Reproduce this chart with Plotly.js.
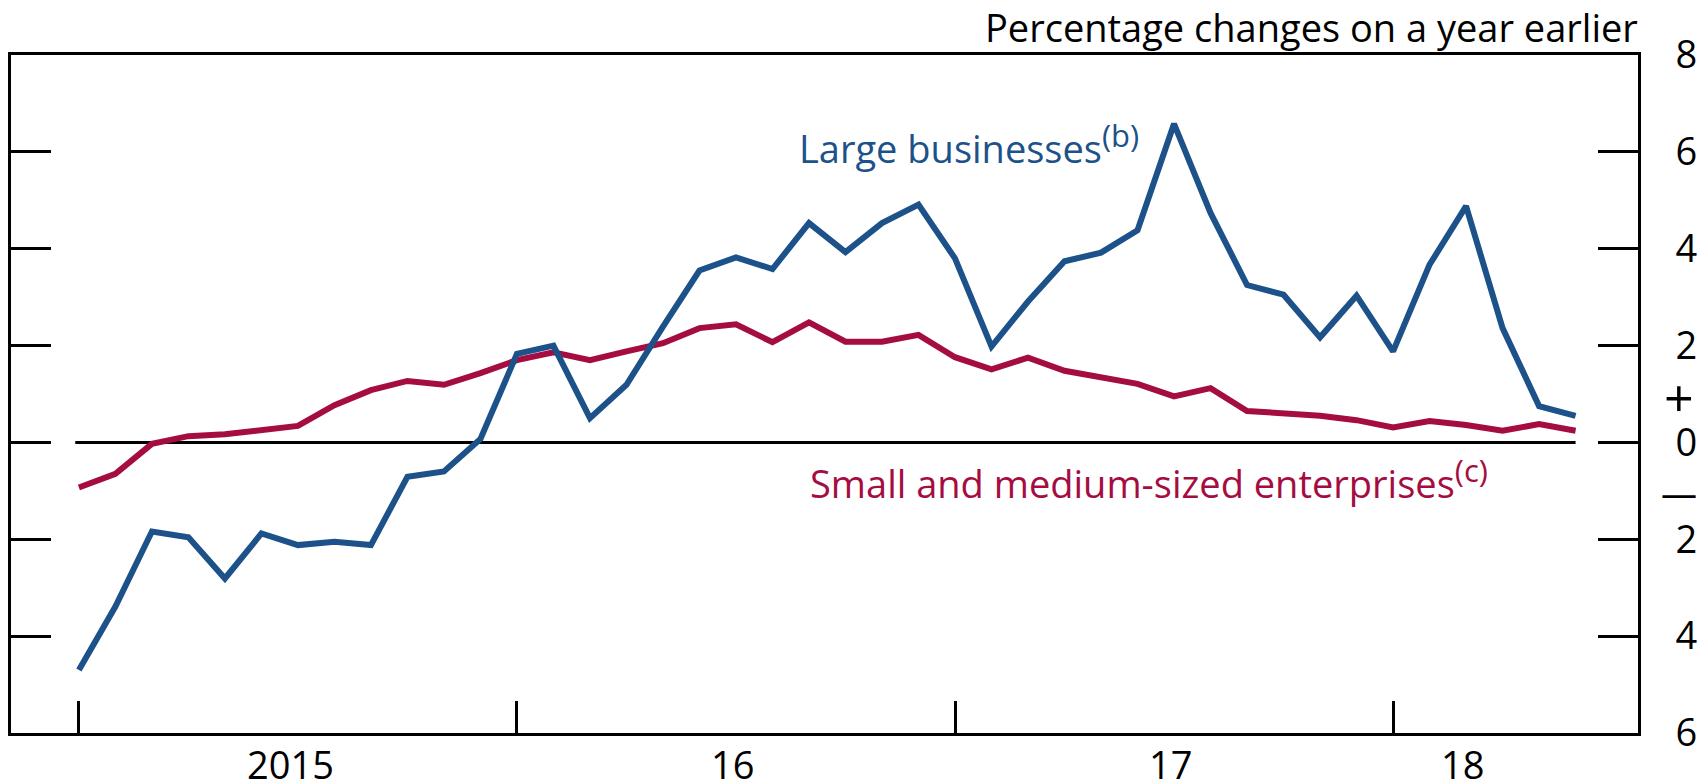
<!DOCTYPE html>
<html>
<head>
<meta charset="utf-8">
<script src="https://cdn.plot.ly/plotly-3.0.1.min.js"></script>
<style>
  html, body { margin: 0; padding: 0; background: #ffffff; }
  #chart { width: 1705px; height: 782px; }
</style>
</head>
<body>
<div id="chart"></div>
<script>
// Months: Jan 2015 .. Jun 2018
const months = [
  '2015-01','2015-02','2015-03','2015-04','2015-05','2015-06','2015-07','2015-08','2015-09','2015-10','2015-11','2015-12',
  '2016-01','2016-02','2016-03','2016-04','2016-05','2016-06','2016-07','2016-08','2016-09','2016-10','2016-11','2016-12',
  '2017-01','2017-02','2017-03','2017-04','2017-05','2017-06','2017-07','2017-08','2017-09','2017-10','2017-11','2017-12',
  '2018-01','2018-02','2018-03','2018-04','2018-05','2018-06'
];

// Large businesses (b), % change on a year earlier
const largeBusinesses = [
  -4.70, -3.39, -1.84, -1.96, -2.81, -1.88, -2.12, -2.05, -2.12, -0.71, -0.60, 0.07,
  1.83, 2.00, 0.50, 1.19, 2.39, 3.55, 3.82, 3.58, 4.53, 3.93, 4.53, 4.91,
  3.80, 1.98, 2.91, 3.74, 3.92, 4.38, 6.58, 4.74, 3.25, 3.05, 2.17, 3.03,
  1.88, 3.67, 4.88, 2.36, 0.75, 0.55
];

// Small and medium-sized enterprises (c)
const smes = [
  -0.93, -0.65, -0.03, 0.13, 0.17, 0.26, 0.34, 0.77, 1.08, 1.27, 1.19, 1.43,
  1.70, 1.86, 1.70, 1.88, 2.05, 2.36, 2.44, 2.07, 2.48, 2.08, 2.08, 2.22,
  1.76, 1.51, 1.75, 1.48, 1.33, 1.21, 0.95, 1.12, 0.65, 0.60, 0.55, 0.46,
  0.31, 0.44, 0.36, 0.24, 0.38, 0.24
];

const yearTickMonths = ['2015-01','2016-01','2017-01','2018-01'];
const yearLabels = ['2015','16','17','18'];
const yearLabelPos = [5.8, 17.9, 29.9, 37.9];

const yTickVals = [-6,-4,-2,0,2,4,6,8];
const yTickText = ['6','4','2','0','2','4','6','8'];

const seriesNames = ['Large businesses', 'Small and medium-sized enterprises'];
const seriesNotes = ['(b)', '(c)'];

const BLUE = '#1c5289';
const RED = '#a50d42';
const FONT = 'Open Sans, Noto Sans, sans-serif';

const xIdx = months.map((m, i) => i);

const traces = [
  {
    x: xIdx, y: smes, type: 'scatter', mode: 'lines',
    line: { color: RED, width: 6, shape: 'linear' },
    hoverinfo: 'skip', showlegend: false
  },
  {
    x: xIdx, y: largeBusinesses, type: 'scatter', mode: 'lines',
    line: { color: BLUE, width: 6, shape: 'linear' },
    hoverinfo: 'skip', showlegend: false
  }
];

function withNote(name, note) {
  return name + '<sup><span style="font-size:31px">' + note + '</span></sup>';
}

const annotations = [
  {
    text: 'Percentage changes on a year earlier',
    xref: 'paper', yref: 'paper', x: 1.0015, y: 1.041,
    xanchor: 'right', yanchor: 'middle', showarrow: false,
    font: { family: FONT, size: 38, color: '#000000' }
  },
  {
    text: withNote(seriesNames[0], seriesNotes[0]),
    xref: 'x', yref: 'y', x: 19.68, y: 6.16,
    xanchor: 'left', yanchor: 'middle', showarrow: false,
    font: { family: FONT, size: 38, color: BLUE }
  },
  {
    text: withNote(seriesNames[1], seriesNotes[1]),
    xref: 'x', yref: 'y', x: 19.98, y: -0.76,
    xanchor: 'left', yanchor: 'middle', showarrow: false,
    font: { family: FONT, size: 38, color: RED }
  },
  {
    text: '+', xref: 'paper', yref: 'y', x: 1.0255, y: 0.94,
    xanchor: 'center', yanchor: 'middle', showarrow: false,
    font: { family: FONT, size: 52, color: '#000000' }
  },
  {
    text: '\u2014', xref: 'paper', yref: 'y', x: 1.0255, y: -1.05,
    xanchor: 'center', yanchor: 'middle', showarrow: false,
    font: { family: FONT, size: 36, color: '#000000' }
  }
];

yearLabels.forEach((lab, k) => {
  annotations.push({
    text: lab, xref: 'x', yref: 'paper', x: yearLabelPos[k], y: -0.045,
    xanchor: 'center', yanchor: 'middle', showarrow: false,
    font: { family: FONT, size: 38, color: '#000000' }
  });
});

const layout = {
  width: 1705, height: 782,
  margin: { l: 11, r: 67, t: 55, b: 49, pad: 0 },
  paper_bgcolor: '#ffffff', plot_bgcolor: '#ffffff',
  showlegend: false,
  font: { family: FONT, size: 38, color: '#000000' },
  xaxis: {
    type: 'linear',
    range: [-1.86, 42.71],
    tickvals: yearTickMonths.map(m => months.indexOf(m)),
    ticks: 'inside', ticklen: 32, tickwidth: 3, tickcolor: '#000000',
    showticklabels: false,
    showline: true, linewidth: 3, linecolor: '#000000', mirror: true,
    showgrid: false, zeroline: false, fixedrange: true
  },
  yaxis: {
    side: 'right',
    range: [-6, 8],
    tickvals: yTickVals, ticktext: yTickText,
    ticks: 'inside', ticklen: 40, tickwidth: 3, tickcolor: '#000000',
    ticklabelstandoff: 27,
    tickfont: { family: FONT, size: 38, color: '#000000' },
    showline: true, linewidth: 3, linecolor: '#000000', mirror: 'ticks',
    showgrid: false, zeroline: false, fixedrange: true
  },
  shapes: [
    {
      type: 'line', xref: 'x', yref: 'y',
      x0: -0.1, x1: months.length - 1, y0: 0, y1: 0,
      line: { color: '#000000', width: 3 }, layer: 'below'
    }
  ],
  annotations: annotations
};

Plotly.newPlot('chart', traces, layout, { staticPlot: true, displayModeBar: false });
</script>
</body>
</html>
